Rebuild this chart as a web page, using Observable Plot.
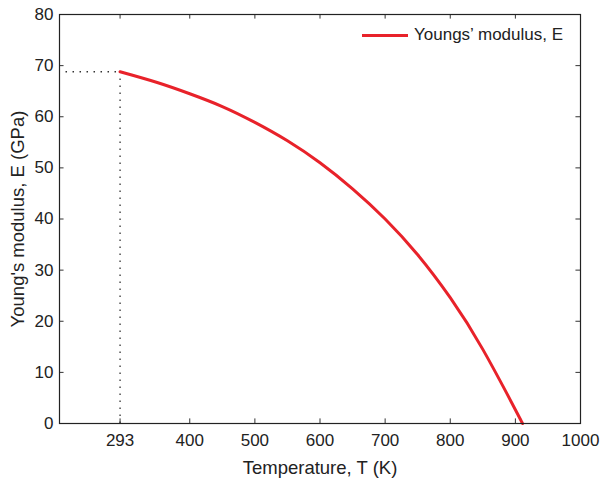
<!DOCTYPE html>
<html>
<head>
<meta charset="utf-8">
<script src="https://cdn.jsdelivr.net/npm/d3@7"></script>
<script src="https://cdn.jsdelivr.net/npm/@observablehq/plot@0.6"></script>
<style>
  html, body { margin: 0; padding: 0; background: #fff; }
  #wrap { position: relative; width: 601px; height: 487px; font-family: "Liberation Sans", Arial, sans-serif; }
  #legend { position: absolute; left: 362px; top: 24px; display: flex; align-items: center; font-size: 17px; line-height: 22px; color: #222; }
  #legend .sw { width: 46px; height: 3px; background: #e8222a; margin-right: 6px; }
</style>
</head>
<body>
<div id="wrap"></div>
<script>
// Temperature (K) and Young's modulus E (GPa)
const temperature = [293, 350, 400, 450, 500, 550, 600, 650, 700, 750, 800, 850, 900, 911];
const modulus     = [68.8, 66.7, 64.5, 62.0, 58.9, 55.3, 51.0, 45.9, 40.0, 33.0, 24.6, 14.5, 2.7, 0];
const xTicks = [293, 400, 500, 600, 700, 800, 900, 1000];
const yTicks = [0, 10, 20, 30, 40, 50, 60, 70, 80];
const refT = 293;
const refE = 68.8;
const legendLabel = "Youngs\u2019 modulus, E";

const data = temperature.map((t, i) => ({T: t, E: modulus[i]}));

const chart = Plot.plot({
  width: 601,
  height: 487,
  marginLeft: 59,
  marginRight: 21,
  marginTop: 14,
  marginBottom: 64,
  style: {fontFamily: "'Liberation Sans', Arial, sans-serif", fontSize: "17px", color: "#222", background: "#fff"},
  x: {domain: [200, 1000]},
  y: {domain: [0, 80]},
  marks: [
    // reference dotted lines
    Plot.ruleY([refE], {x1: 210, x2: refT, stroke: "#333", strokeWidth: 1.3, strokeDasharray: "1.5,5.5"}),
    Plot.ruleX([refT], {y1: 0, y2: refE, stroke: "#333", strokeWidth: 1.3, strokeDasharray: "1.5,5.5"}),
    // inward ticks
    Plot.ruleX(xTicks, {y1: 0, y2: 0.9, stroke: "#333"}),
    Plot.ruleX(xTicks, {y1: 80, y2: 79.1, stroke: "#333"}),
    Plot.ruleY(yTicks, {x1: 200, x2: 207, stroke: "#333"}),
    Plot.ruleY(yTicks, {x1: 1000, x2: 993, stroke: "#333"}),
    Plot.axisX(xTicks, {tickSize: 0, tickPadding: 10, tickFormat: d => String(d), fontSize: 17, label: null}),
    Plot.axisY(yTicks, {tickSize: 0, tickPadding: 6, tickFormat: d => String(d), fontSize: 17, label: null}),
    Plot.axisX({tickSize: 0, ticks: [], label: "Temperature, T (K)", labelAnchor: "center", labelArrow: "none", labelOffset: 50, fontSize: 18.5}),
    Plot.axisY({tickSize: 0, ticks: [], label: "Young's modulus, E (GPa)", labelAnchor: "center", labelArrow: "none", labelOffset: 49, fontSize: 18.5}),
    Plot.line(data, {x: "T", y: "E", stroke: "#e8222a", strokeWidth: 3, curve: "natural"}),
    Plot.frame({stroke: "#222", strokeWidth: 1.2})
  ]
});

const wrap = document.getElementById("wrap");
wrap.appendChild(chart);
const legend = document.createElement("div");
legend.id = "legend";
legend.innerHTML = `<div class="sw"></div><span></span>`;
legend.querySelector("span").textContent = legendLabel;
wrap.appendChild(legend);
</script>
</body>
</html>
